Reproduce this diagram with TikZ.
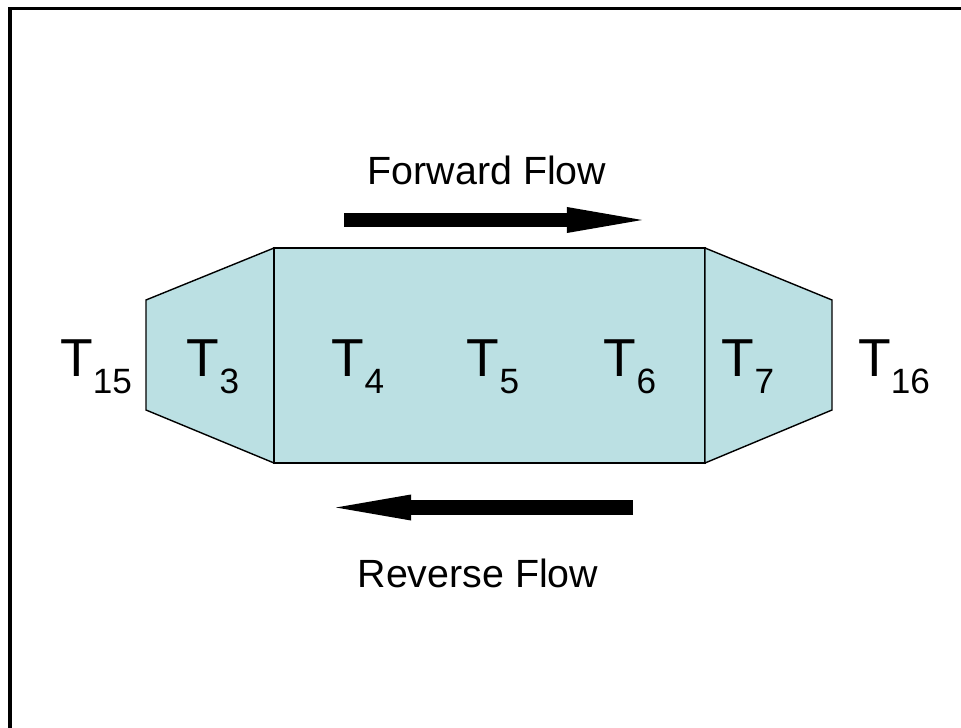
\documentclass[tikz,border=0pt]{standalone}
\usepackage{fontspec}
\setmainfont{Liberation Sans}
\usetikzlibrary{arrows.meta}

\definecolor{ductfill}{RGB}{187,224,227}
\newcommand{\Tsub}[1]{{\fontsize{38}{38}\selectfont T}\raisebox{-0.4cm}{\fontsize{25}{25}\selectfont #1}}

\begin{document}
\begin{tikzpicture}[x=0.025cm, y=-0.025cm,
    section/.style={draw, line width=1pt, fill=ductfill, line join=miter},
    flow/.style={line width=0.35cm, -{Triangle[length=1.875cm, width=0.65cm, line width=0pt]}},
    flowlabel/.style={font=\fontsize{28}{28}\selectfont, anchor=base},
    templabel/.style={anchor=base, inner sep=0pt}]
    \useasboundingbox (0,0) rectangle (961,728);

    % Frame (top and left edges)
    \draw[line width=0.075cm] (10,728) -- (10,9) -- (961,9);

    % Duct sections
    \draw[section] (146,300) -- (274,248) -- (274,463) -- (146,410) -- cycle;
    \draw[section] (274,248) rectangle (705,463);
    \draw[section] (705,248) -- (832,300) -- (832,410) -- (705,463) -- cycle;

    % Flow arrows
    \coordinate (FwdStart) at (344,220);
    \coordinate (FwdEnd) at (642,220);
    \coordinate (RevStart) at (633,507.5);
    \coordinate (RevEnd) at (336,507.5);
    \draw[flow] (FwdStart) -- (FwdEnd);
    \draw[flow] (RevStart) -- (RevEnd);

    \node[flowlabel] (Forward) at (487,185) {Forward Flow};
    \node[flowlabel] (Reverse) at (478,587) {Reverse Flow};

    % Temperature labels
    \node[templabel] (T15) at (96,377) {\Tsub{15}};
    \node[templabel] (T3) at (213,377) {\Tsub{3}};
    \node[templabel] (T4) at (358,377) {\Tsub{4}};
    \node[templabel] (T5) at (493,377) {\Tsub{5}};
    \node[templabel] (T6) at (630,377) {\Tsub{6}};
    \node[templabel] (T7) at (748,377) {\Tsub{7}};
    \node[templabel] (T16) at (894,377) {\Tsub{16}};
\end{tikzpicture}
\end{document}
